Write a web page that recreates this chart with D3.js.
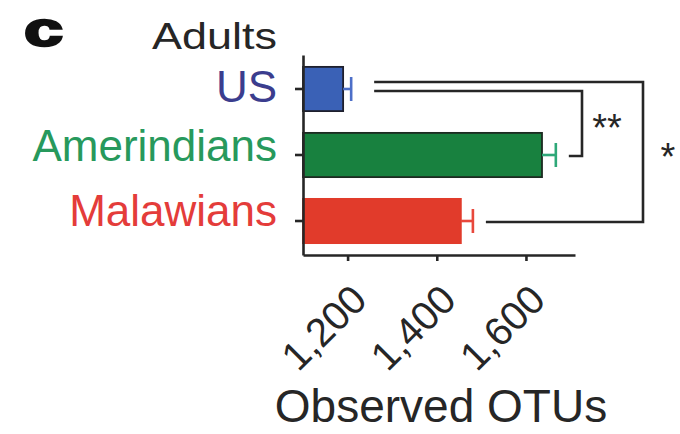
<!DOCTYPE html>
<html>
<head>
<meta charset="utf-8">
<script src="https://cdn.jsdelivr.net/npm/d3@7"></script>
<style>
  body { margin: 0; background: #fff; }
  svg { display: block; }
  text { font-family: "Liberation Sans", Arial, Helvetica, sans-serif; }
</style>
</head>
<body>
<svg id="chart" width="680" height="434"></svg>
<script>
// Observed OTUs (mean ± s.e.m.) in adults of three populations
const categories = ["US", "Amerindians", "Malawians"];
const meanOTUs = [1190, 1636, 1454];
const semOTUs = [18, 31, 27];
const xTickValues = [1200, 1400, 1600];
// pairwise significance: [group A, group B, marker]
const comparisons = [
  ["US", "Amerindians", "**"],
  ["US", "Malawians", "*"]
];
const panelLabel = "c";
const groupTitle = "Adults";
const xTitle = "Observed OTUs";

// styling
const barFill = { US: "#3a61b6", Amerindians: "#18813f", Malawians: "#e13b2b" };
const barStroke = { US: "#1e1f2c", Amerindians: "#1c2b21", Malawians: "#e13b2b" };
const errColor = { US: "#4d6fc8", Amerindians: "#2ea878", Malawians: "#e8483c" };
const labelColor = { US: "#3b3d8e", Amerindians: "#27995c", Malawians: "#e43c3a" };
const labelShift = { US: 13, Amerindians: 6, Malawians: 5 };
const ink = "#262626";

const svg = d3.select("#chart");

const x = d3.scaleLinear().domain([1100, 1710]).range([303, 575]);
const y = d3.scaleBand().domain(categories).range([55, 255])
  .paddingInner(0.33).paddingOuter(0.18);
const cy = c => y(c) + y.bandwidth() / 2;

const rows = categories.map((c, i) => ({ cat: c, mean: meanOTUs[i], sem: semOTUs[i] }));
const byCat = Object.fromEntries(rows.map(r => [r.cat, r]));

// bars
svg.append("g").selectAll("rect").data(rows).join("rect")
  .attr("x", x(x.domain()[0]))
  .attr("y", d => y(d.cat))
  .attr("width", d => x(d.mean) - x(x.domain()[0]))
  .attr("height", y.bandwidth())
  .attr("fill", d => barFill[d.cat])
  .attr("stroke", d => barStroke[d.cat])
  .attr("stroke-width", 1.8);

// error bars
const eb = svg.append("g").selectAll("g").data(rows).join("g")
  .attr("stroke", d => errColor[d.cat])
  .attr("stroke-width", 2.6);
eb.append("line")
  .attr("x1", d => x(d.mean)).attr("x2", d => x(d.mean + d.sem))
  .attr("y1", d => cy(d.cat)).attr("y2", d => cy(d.cat));
eb.append("line")
  .attr("x1", d => x(d.mean + d.sem)).attr("x2", d => x(d.mean + d.sem))
  .attr("y1", d => cy(d.cat) - 12).attr("y2", d => cy(d.cat) + 12);

// axes
const xAxis = svg.append("g")
  .attr("transform", `translate(0,${y.range()[1]})`)
  .call(d3.axisBottom(x).tickValues(xTickValues).tickSize(6).tickSizeOuter(0)
    .tickFormat(d3.format(",")));
xAxis.selectAll("text")
  .attr("x", 0).attr("y", 0).attr("dy", 0)
  .attr("text-anchor", "end")
  .attr("transform", "translate(21,47) rotate(-45)")
  .attr("font-size", 40)
  .attr("font-family", "'Liberation Sans', Arial, sans-serif")
  .attr("fill", ink);

const yAxis = svg.append("g")
  .attr("transform", `translate(${x.range()[0]},0)`)
  .call(d3.axisLeft(y).tickSize(8).tickSizeOuter(0).tickPadding(18));
yAxis.selectAll("text")
  .attr("dy", 0)
  .attr("y", d => labelShift[d])
  .attr("font-size", 44)
  .attr("font-family", "'Liberation Sans', Arial, sans-serif")
  .attr("fill", d => labelColor[d]);

svg.selectAll(".domain, .tick line")
  .attr("stroke", ink).attr("stroke-width", 2.6);

// significance brackets
const bracketRight = [582, 643];
const topOffset = [2, -7];
const gapStart = 23, gapEnd = 13;
const br = svg.append("g").attr("fill", "none").attr("stroke", ink).attr("stroke-width", 2.6);
comparisons.forEach(([a, b, mark], i) => {
  const ra = byCat[a], rb = byCat[b];
  const y1 = cy(a) + topOffset[i];
  const y2 = cy(b) + 1;
  const xs = x(ra.mean + ra.sem) + gapStart;
  const xe = x(rb.mean + rb.sem) + gapEnd;
  const xr = bracketRight[i];
  br.append("path").attr("d", `M${xs},${y1}H${xr}V${y2}H${xe}`);
  svg.append("text")
    .attr("x", xr + 25).attr("y", (y1 + y2) / 2 + 18)
    .attr("text-anchor", "middle")
    .attr("font-size", 38)
    .attr("fill", ink)
    .text(mark);
});

// titles
svg.append("text")
  .attr("x", 24).attr("y", 46)
  .attr("font-family", "'DejaVu Sans', sans-serif")
  .attr("font-weight", "bold")
  .attr("font-size", 49)
  .attr("textLength", 39).attr("lengthAdjust", "spacingAndGlyphs")
  .attr("fill", "#111").attr("stroke", "#111").attr("stroke-width", 2.4)
  .text(panelLabel);

svg.append("text")
  .attr("x", 152).attr("y", 49)
  .attr("font-size", 37)
  .attr("textLength", 125).attr("lengthAdjust", "spacingAndGlyphs")
  .attr("fill", ink)
  .text(groupTitle);

svg.append("text")
  .attr("x", 441).attr("y", 422)
  .attr("text-anchor", "middle")
  .attr("font-size", 46)
  .attr("fill", ink)
  .text(xTitle);
</script>
</body>
</html>
